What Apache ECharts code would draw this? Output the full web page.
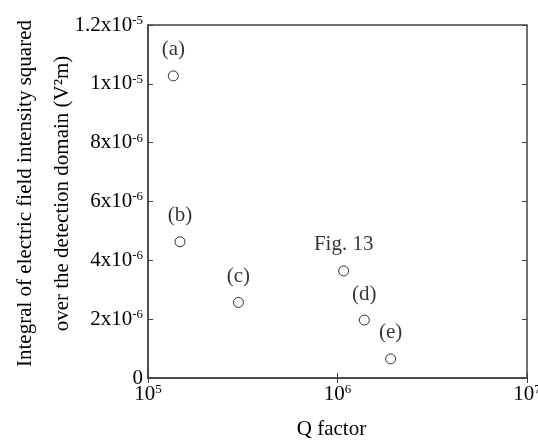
<!DOCTYPE html>
<html>
<head>
<meta charset="utf-8">
<script src="https://cdn.jsdelivr.net/npm/echarts@6/dist/echarts.min.js"></script>
<style>
  html, body { margin: 0; padding: 0; background: #fff; }
  #chart { width: 538px; height: 445px; }
</style>
</head>
<body>
<div id="chart"></div>
<script>
  // data
  var qFactor = [1.36e5, 1.475e5, 3.0e5, 1.078e6, 1.386e6, 1.908e6];
  var integral = [1.027e-5, 4.63e-6, 2.57e-6, 3.64e-6, 1.97e-6, 0.65e-6];
  var pointLabels = ['(a)', '(b)', '(c)', 'Fig. 13', '(d)', '(e)'];

  // tick labels
  var xTickExp = ['5', '6', '7'];
  var yTickMantissa = ['0', '2', '4', '6', '8', '1', '1.2'];
  var yTickExp = ['', '-6', '-6', '-6', '-6', '-5', '-5'];

  var font = 'Liberation Serif';
  var axisColor = '#404040';
  var supStyle = { fontFamily: font, fontSize: 13, color: '#000', verticalAlign: 'top', padding: [0, 0, 9, 0] };

  var points = qFactor.map(function (q, i) {
    return { value: [q, integral[i]], name: pointLabels[i] };
  });

  var chart = echarts.init(document.getElementById('chart'));
  chart.setOption({
    animation: false,
    grid: {
      left: 148, right: 11, top: 25, bottom: 67,
      containLabel: false,
      outerBoundsMode: 'none',
      show: true, borderColor: axisColor, borderWidth: 1.5
    },
    xAxis: [{
      type: 'log',
      logBase: 10,
      min: 1e5,
      max: 1e7,
      name: 'Q factor',
      nameLocation: 'middle',
      nameGap: 41,
      nameMoveOverlap: false,
      nameTextStyle: { fontFamily: font, fontSize: 21, color: '#000', padding: [0, 12, 0, 0] },
      axisLine: { lineStyle: { color: axisColor, width: 1.5 } },
      axisTick: { inside: true, length: 5, lineStyle: { color: axisColor } },
      minorTick: { show: false },
      splitLine: { show: false },
      axisLabel: {
        margin: 5,
        fontFamily: font,
        fontSize: 21,
        color: '#000',
        formatter: function (v, i) {
          return '10{sup|' + xTickExp[i] + '}';
        },
        rich: { sup: supStyle }
      }
    }, {
      type: 'log',
      logBase: 10,
      min: 1e5,
      max: 1e7,
      position: 'top',
      axisLine: { show: false },
      axisTick: { inside: true, length: 5, lineStyle: { color: axisColor } },
      axisLabel: { show: false },
      splitLine: { show: false }
    }],
    yAxis: [{
      type: 'value',
      min: 0,
      max: 1.2e-5,
      interval: 2e-6,
      name: 'Integral of electric field intensity squared\nover the detection domain (V²m)',
      nameLocation: 'middle',
      nameGap: 67,
      nameMoveOverlap: false,
      nameTextStyle: { fontFamily: font, fontSize: 21, color: '#000', lineHeight: 37, padding: [0, 0, 0, 16] },
      axisLine: { show: true, lineStyle: { color: axisColor, width: 1.5 } },
      axisTick: { inside: true, length: 5, lineStyle: { color: axisColor } },
      splitLine: { show: false },
      axisLabel: {
        margin: 5,
        fontFamily: font,
        fontSize: 21,
        color: '#000',
        formatter: function (v, i) {
          if (!yTickExp[i]) return yTickMantissa[i];
          return yTickMantissa[i] + 'x10{sup|' + yTickExp[i] + '}';
        },
        rich: { sup: supStyle }
      }
    }, {
      type: 'value',
      min: 0,
      max: 1.2e-5,
      interval: 2e-6,
      position: 'right',
      axisLine: { show: false },
      axisTick: { show: true, inside: true, length: 5, lineStyle: { color: axisColor } },
      axisLabel: { show: false },
      splitLine: { show: false }
    }],
    series: [{
      type: 'scatter',
      data: points,
      symbol: 'circle',
      symbolSize: 10,
      itemStyle: { color: '#fff', borderColor: '#000', borderWidth: 1 },
      label: {
        show: true,
        position: 'top',
        distance: 10,
        formatter: '{b}',
        fontFamily: font,
        fontSize: 21,
        color: '#000'
      }
    }]
  });
</script>
</body>
</html>
